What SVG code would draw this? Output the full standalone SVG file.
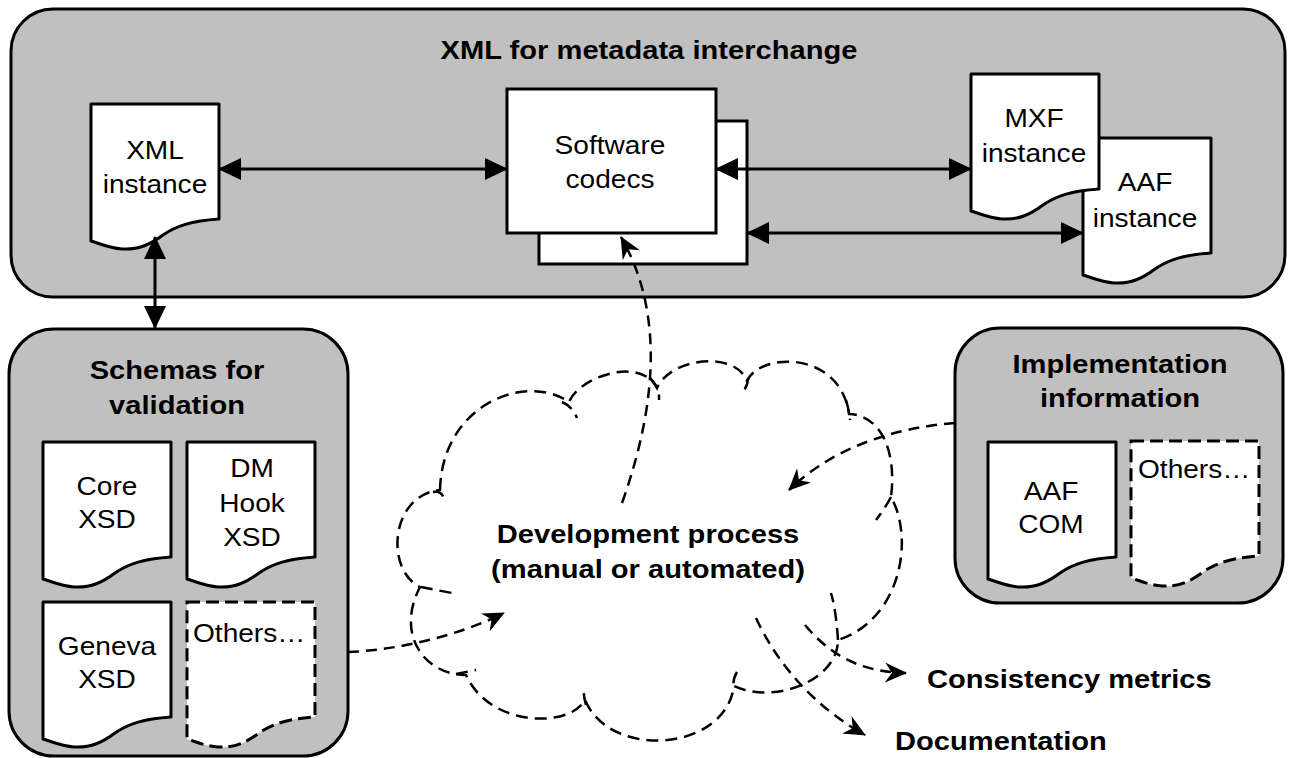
<svg xmlns="http://www.w3.org/2000/svg" xmlns:xlink="http://www.w3.org/1999/xlink" width="1290" height="758" viewBox="0 0 1290 758">
  <style>
    .panel { fill: #c0c0c0; stroke: #000; stroke-width: 3; }
    .doc { fill: #fff; stroke: #000; stroke-width: 3; stroke-linejoin: round; }
    .dashdoc { fill: #fff; stroke: #000; stroke-width: 3; stroke-dasharray: 13 6; }
    .box { fill: #fff; stroke: #000; stroke-width: 3; }
    .link { fill: none; stroke: #000; stroke-width: 3; marker-start: url(#tri); marker-end: url(#tri); }
    .flow { fill: none; stroke: #000; stroke-width: 2.5; stroke-dasharray: 11 7; marker-end: url(#barb); }
    .cloud { fill: #fff; stroke: #000; stroke-width: 2.5; stroke-dasharray: 12 7; }
    .hook { fill: none; stroke: #000; stroke-width: 2.5; stroke-dasharray: 12 7; }
    text { font-family: "Liberation Sans", Arial, sans-serif; font-size: 26px; fill: #000; text-anchor: middle; }
    .b { font-weight: bold; }
    .l { text-anchor: start; }
  </style>
  <defs>
    <!-- document outline with a wavy bottom edge, 128 wide -->
    <path id="docshape" d="M0,0 H128 V115 C100,117 85,122 72,131 C60,140 48,146 31,145 C18,144 10,140 0,137 Z"/>
    <marker id="tri" viewBox="0 0 23 22" refX="22" refY="11" markerWidth="23" markerHeight="22" markerUnits="userSpaceOnUse" orient="auto-start-reverse">
      <path d="M0,0 L23,11 L0,22 Z" fill="#000"/>
    </marker>
    <marker id="barb" viewBox="0 0 22 20" refX="21" refY="10" markerWidth="22" markerHeight="20" markerUnits="userSpaceOnUse" orient="auto">
      <path d="M0,0 L22,10 L0,20 L7,10 Z" fill="#000"/>
    </marker>
  </defs>

  <!-- containers -->
  <g id="interchange">
    <rect class="panel" x="11" y="9" width="1274" height="288" rx="42" ry="42"/>
    <text class="b" transform="translate(649,59) scale(1.12,1)">XML for metadata interchange</text>
  </g>
  <g id="schemas">
    <rect class="panel" x="9" y="329" width="339" height="427" rx="45" ry="45"/>
    <text class="b" transform="translate(177,379) scale(1.12,1)"><tspan x="0" y="0">Schemas for</tspan><tspan x="0" y="35">validation</tspan></text>
  </g>
  <g id="implementation">
    <rect class="panel" x="955" y="328" width="328" height="275" rx="45" ry="45"/>
    <text class="b" transform="translate(1120,373) scale(1.12,1)"><tspan x="0" y="0">Implementation</tspan><tspan x="0" y="34">information</tspan></text>
  </g>

  <!-- documents inside the interchange panel -->
  <g id="xml-instance">
    <use xlink:href="#docshape" class="doc" transform="translate(91,104)"/>
    <text transform="translate(155,159) scale(1.08,1)"><tspan x="0" y="0">XML</tspan><tspan x="0" y="34">instance</tspan></text>
  </g>
  <g id="software-codecs">
    <rect class="box" x="539" y="121" width="208" height="143"/>
    <rect class="box" x="507" y="89" width="209" height="144"/>
    <text transform="translate(610,154) scale(1.08,1)"><tspan x="0" y="0">Software</tspan><tspan x="0" y="34">codecs</tspan></text>
  </g>
  <g id="aaf-instance">
    <use xlink:href="#docshape" class="doc" transform="translate(1083,138)"/>
    <text transform="translate(1145,191) scale(1.08,1)"><tspan x="0" y="0">AAF</tspan><tspan x="0" y="36">instance</tspan></text>
  </g>
  <g id="mxf-instance">
    <use xlink:href="#docshape" class="doc" transform="translate(971,74)"/>
    <text transform="translate(1034,127) scale(1.08,1)"><tspan x="0" y="0">MXF</tspan><tspan x="0" y="35">instance</tspan></text>
  </g>

  <!-- schema documents -->
  <g id="core-xsd">
    <use xlink:href="#docshape" class="doc" transform="translate(43,442)"/>
    <text transform="translate(107,495) scale(1.08,1)"><tspan x="0" y="0">Core</tspan><tspan x="0" y="33">XSD</tspan></text>
  </g>
  <g id="dm-hook-xsd">
    <use xlink:href="#docshape" class="doc" transform="translate(187,442)"/>
    <text transform="translate(252,477) scale(1.08,1)"><tspan x="0" y="0">DM</tspan><tspan x="0" y="35">Hook</tspan><tspan x="0" y="69">XSD</tspan></text>
  </g>
  <g id="geneva-xsd">
    <use xlink:href="#docshape" class="doc" transform="translate(43,602)"/>
    <text transform="translate(107,655) scale(1.08,1)"><tspan x="0" y="0">Geneva</tspan><tspan x="0" y="33">XSD</tspan></text>
  </g>
  <g id="schema-others">
    <use xlink:href="#docshape" class="dashdoc" transform="translate(187,602)"/>
    <text class="l" transform="translate(193,642) scale(1.08,1)">Others…</text>
  </g>

  <!-- implementation documents -->
  <g id="aaf-com">
    <use xlink:href="#docshape" class="doc" transform="translate(988,442)"/>
    <text transform="translate(1051,500) scale(1.08,1)"><tspan x="0" y="0">AAF</tspan><tspan x="0" y="33">COM</tspan></text>
  </g>
  <g id="impl-others">
    <use xlink:href="#docshape" class="dashdoc" transform="translate(1131,441)"/>
    <text class="l" transform="translate(1138,478) scale(1.08,1)">Others…</text>
  </g>

  <!-- development process cloud -->
  <g id="development">
    <path class="cloud" d="M440,490 C442,405 525,372 569,402 C578,378 640,355 657,388 C670,358 735,350 747,381 C760,352 840,350 849,414 C880,415 897,450 891,497 C915,540 900,620 838,640 C838,680 775,705 734,686 C725,752 610,760 585,700 C570,728 490,728 466,675 C425,675 395,635 420,587 C385,570 390,495 440,490 Z"/>
    <path class="hook" d="M433,492 Q444,490 444,503"/>
    <path class="hook" d="M562,402 Q572,406 577,418"/>
    <path class="hook" d="M650,378 Q660,388 659,400"/>
    <path class="hook" d="M748,378 Q748,386 742,393"/>
    <path class="hook" d="M846,400 Q849,410 850,420"/>
    <path class="hook" d="M891,497 Q884,510 876,520"/>
    <path class="hook" d="M838,640 Q836,610 831,593"/>
    <path class="hook" d="M737,672 Q732,680 734,688"/>
    <path class="hook" d="M586,705 Q583,695 584,687"/>
    <path class="hook" d="M456,674 Q466,672 476,670"/>
    <path class="hook" d="M421,587 Q436,590 452,593"/>
    <text class="b" transform="translate(648,543) scale(1.12,1)"><tspan x="0" y="0">Development process</tspan><tspan x="0" y="35">(manual or automated)</tspan></text>
  </g>

  <!-- outputs -->
  <g id="consistency-metrics">
    <text class="b l" transform="translate(927,688) scale(1.12,1)">Consistency metrics</text>
  </g>
  <g id="documentation">
    <text class="b l" transform="translate(895,750) scale(1.12,1)">Documentation</text>
  </g>

  <!-- connectors -->
  <g id="connectors">
    <line class="link" x1="219" y1="169" x2="507" y2="169"/>
    <line class="link" x1="716" y1="169" x2="971" y2="169"/>
    <line class="link" x1="747" y1="233" x2="1083" y2="233"/>
    <line class="link" x1="155" y1="237" x2="155" y2="328"/>
    <path class="flow" d="M622,503 Q680,340 621,237"/>
    <path class="flow" d="M348,652 C400,650 460,635 504,613"/>
    <path class="flow" d="M955,423 C890,428 830,450 789,490"/>
    <path class="flow" d="M805,625 C830,655 860,672 906,673"/>
    <path class="flow" d="M756,618 C780,670 820,710 865,735"/>
  </g>
</svg>
